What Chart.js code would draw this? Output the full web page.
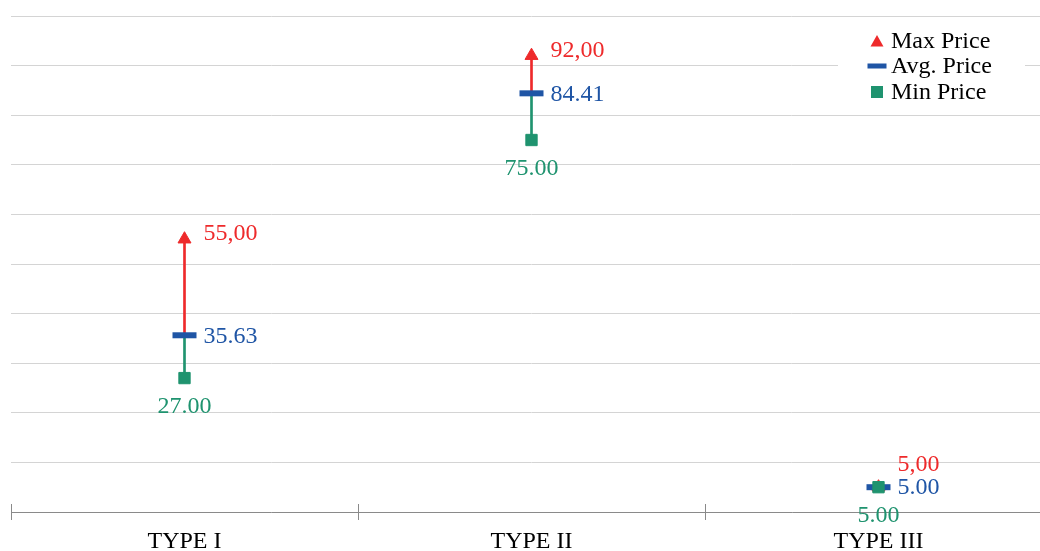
<!DOCTYPE html>
<html>
<head>
<meta charset="utf-8">
<title>Price range by type</title>
<script src="https://cdn.jsdelivr.net/npm/chart.js@4.4.0/dist/chart.umd.min.js"></script>
<style>
  html, body { margin: 0; padding: 0; background: #fff; overflow: hidden; }
  #wrap { width: 1052px; height: 553px; position: relative; }
</style>
</head>
<body>
<div id="wrap"><canvas id="priceChart"></canvas></div>
<script>
// ---- data ----
const categories = ['TYPE I', 'TYPE II', 'TYPE III'];
const maxPrice = [55, 92, 5];
const avgPrice = [35.63, 84.41, 5];
const minPrice = [27, 75, 5];
const yMin = 0;
const yMax = 100;
const yStep = 10;

const RED = '#ee2a2b';
const BLUE = '#1f55a5';
const GREEN = '#1f936f';
const FONT = '"Liberation Serif", "Times New Roman", serif';

// vertical stems (floating bars)
const upperStem = categories.map((c, i) => [avgPrice[i], maxPrice[i]]);
const lowerStem = categories.map((c, i) => [minPrice[i], avgPrice[i]]);

// labels next to the markers
const priceLabels = {
  id: 'priceLabels',
  afterDatasetsDraw(chart) {
    const ctx = chart.ctx;
    const metaOf = kind => chart.getDatasetMeta(chart.data.datasets.findIndex(d => d.kind === kind));
    const maxMeta = metaOf('max'), avgMeta = metaOf('avg'), minMeta = metaOf('min');
    ctx.save();
    ctx.font = '24px ' + FONT;
    ctx.textBaseline = 'middle';
    categories.forEach((c, i) => {
      const a = avgMeta.data[i], mx = maxMeta.data[i], mn = minMeta.data[i];
      // avg
      ctx.textAlign = 'left';
      ctx.fillStyle = BLUE;
      ctx.fillText(avgPrice[i].toFixed(2), a.x + 19, a.y + 1);
      // max (comma decimal, as in the original)
      let my = mx.y - 5;
      if (my > a.y - 22) my = a.y - 22;
      ctx.fillStyle = RED;
      ctx.fillText(maxPrice[i].toFixed(2).replace('.', ','), mx.x + 19, my);
      // min
      ctx.textAlign = 'center';
      ctx.fillStyle = GREEN;
      ctx.fillText(minPrice[i].toFixed(2), mn.x, mn.y + 29);
    });
    ctx.restore();
  }
};

// tick marks crossing the category axis
const axisTicks = {
  id: 'axisTicks',
  afterDraw(chart) {
    const ctx = chart.ctx;
    const xs = chart.scales.x;
    const y = chart.chartArea.bottom;
    ctx.save();
    ctx.strokeStyle = '#8a8a8a';
    ctx.lineWidth = 1;
    for (let i = 0; i <= categories.length; i++) {
      const x = Math.round(xs.getPixelForValue(i - 0.5)) + 0.5;
      ctx.beginPath();
      ctx.moveTo(x, y - 8);
      ctx.lineTo(x, y + 8);
      ctx.stroke();
    }
    ctx.restore();
  }
};

// legend box in the top right corner
const boxLegend = {
  id: 'boxLegend',
  afterDraw(chart) {
    const ctx = chart.ctx;
    const items = chart.data.datasets.filter(d => d.kind);
    const order = ['max', 'avg', 'min'];
    items.sort((p, q) => order.indexOf(p.kind) - order.indexOf(q.kind));
    const left = 838, top = 28, w = 187, h = 77;
    const rowY = [41, 66, 92];
    const mx = 877, tx = 891;
    ctx.save();
    ctx.fillStyle = '#fff';
    ctx.fillRect(left, top, w, h);
    ctx.font = '24px ' + FONT;
    ctx.textAlign = 'left';
    ctx.textBaseline = 'middle';
    items.forEach((d, k) => {
      const y = rowY[k];
      ctx.fillStyle = d.pointBackgroundColor;
      if (d.kind === 'max') {
        ctx.beginPath();
        ctx.moveTo(mx, y - 6);
        ctx.lineTo(mx + 6.5, y + 5.5);
        ctx.lineTo(mx - 6.5, y + 5.5);
        ctx.closePath();
        ctx.fill();
      } else if (d.kind === 'avg') {
        ctx.fillRect(mx - 9.5, y - 2.5, 19, 5);
      } else {
        ctx.fillRect(mx - 6, y - 6, 12, 12);
      }
      ctx.fillStyle = '#000';
      ctx.fillText(d.label, tx, y + 1);
    });
    ctx.restore();
  }
};

new Chart(document.getElementById('priceChart'), {
  type: 'bar',
  data: {
    labels: categories,
    datasets: [
      {
        type: 'line', kind: 'min', label: 'Min Price', data: minPrice,
        showLine: false, pointStyle: 'rect', pointRadius: 8,
        pointBackgroundColor: GREEN, pointBorderColor: GREEN, pointBorderWidth: 1,
        order: 0
      },
      {
        type: 'line', kind: 'avg', label: 'Avg. Price', data: avgPrice,
        showLine: false, pointStyle: 'line', pointRadius: 12,
        pointBackgroundColor: BLUE, pointBorderColor: BLUE, pointBorderWidth: 6,
        order: 1
      },
      {
        type: 'line', kind: 'max', label: 'Max Price', data: maxPrice,
        showLine: false, pointStyle: 'triangle', pointRadius: 7.5,
        pointBackgroundColor: RED, pointBorderColor: RED, pointBorderWidth: 1,
        order: 2
      },
      {
        label: 'upper', data: upperStem, backgroundColor: RED,
        barThickness: 2, grouped: false, borderWidth: 0, order: 3
      },
      {
        label: 'lower', data: lowerStem, backgroundColor: GREEN,
        barThickness: 2, grouped: false, borderWidth: 0, order: 3
      }
    ]
  },
  options: {
    responsive: true,
    maintainAspectRatio: false,
    animation: false,
    layout: { autoPadding: false, padding: { left: 11, right: 0, top: 16, bottom: -11 } },
    plugins: {
      legend: { display: false },
      tooltip: { enabled: false }
    },
    scales: {
      x: {
        offset: true,
        grid: { offset: true, drawOnChartArea: false, drawTicks: true, tickLength: 8, color: 'rgba(0,0,0,0)' },
        border: { display: true, color: '#8a8a8a', width: 1 },
        ticks: {
          color: '#000',
          padding: 11,
          font: { family: FONT, size: 24, lineHeight: 22 / 24 }
        }
      },
      y: {
        min: yMin,
        max: yMax,
        ticks: { display: false, stepSize: yStep },
        grid: { color: '#d4d4d4', lineWidth: 1, drawTicks: false },
        border: { display: false }
      }
    }
  },
  plugins: [priceLabels, axisTicks, boxLegend]
});
</script>
</body>
</html>
